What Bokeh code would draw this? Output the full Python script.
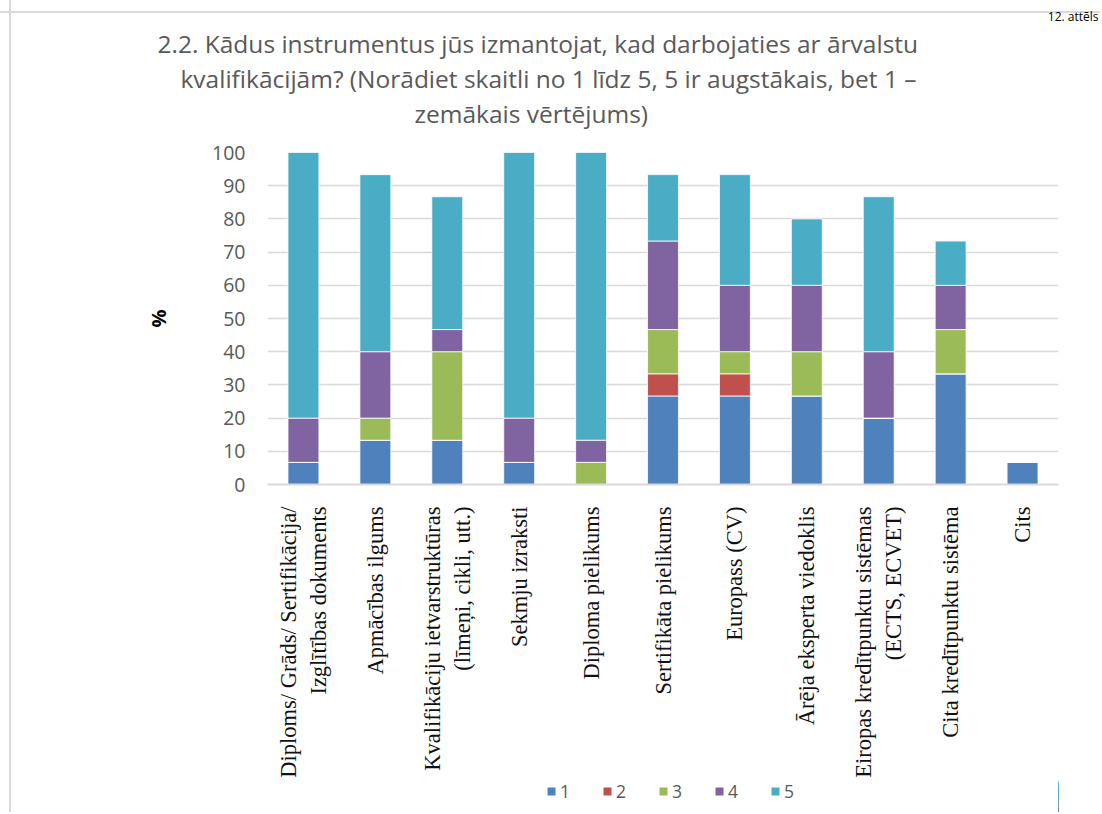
import math
from bokeh.plotting import figure
from bokeh.layouts import column
from bokeh.models import (Range1d, FactorRange, Legend, LegendItem, Title,
                          ColumnDataSource, FixedTicker)
from bokeh.embed import file_html
from bokeh.resources import INLINE

categories = [
    "Diploms/ Grāds/ Sertifikācija/\nIzglītības dokuments",
    "Apmācības ilgums",
    "Kvalifikāciju ietvarstruktūras\n(līmeņi, cikli, utt.)",
    "Sekmju izraksti",
    "Diploma pielikums",
    "Sertifikāta pielikums",
    "Europass (CV)",
    "Ārēja eksperta viedoklis",
    "Eiropas kredītpunktu sistēmas\n(ECTS, ECVET)",
    "Cita kredītpunktu sistēma",
    "Cits",
]
series_names = ["1", "2", "3", "4", "5"]
s1 = [6.67, 13.33, 13.33, 6.67, 0, 26.67, 26.67, 26.67, 20.0, 33.33, 6.67]
s2 = [0, 0, 0, 0, 0, 6.67, 6.67, 0, 0, 0, 0]
s3 = [0, 6.67, 26.67, 0, 6.67, 13.33, 6.67, 13.33, 0, 13.33, 0]
s4 = [13.33, 20.0, 6.67, 13.33, 6.67, 26.67, 20.0, 20.0, 20.0, 13.33, 0]
s5 = [80.0, 53.33, 40.0, 80.0, 86.67, 20.0, 33.33, 20.0, 46.67, 13.33, 0]
colors = ["#4f81bd", "#c0504d", "#9bbb59", "#8064a2", "#4bacc6"]
y_ticks = [0, 10, 20, 30, 40, 50, 60, 70, 80, 90, 100]
title_lines = [
    "2.2. Kādus instrumentus jūs izmantojat, kad darbojaties ar ārvalstu",
    "kvalifikācijām? (Norādiet skaitli no 1 līdz 5, 5 ir augstākais, bet 1 –",
    "zemākais vērtējums)",
]
figure_caption = "12. attēls"

data = {"cat": categories, "idx": list(range(len(categories))),
        "1": s1, "2": s2, "3": s3, "4": s4, "5": s5}
src = ColumnDataSource(data=data)

# ---------------- main chart ----------------
p = figure(x_range=FactorRange(*categories), y_range=Range1d(0, 100),
           width=1100, height=780, output_backend="svg", toolbar_location=None,
           min_border_left=267, min_border_right=42, min_border_top=152,
           min_border_bottom=296, title=None)
p.outline_line_color = None
p.background_fill_color = "white"
p.border_fill_alpha = 0

p.vbar_stack(series_names, x="cat", width=0.43, color=colors, source=src,
             line_color="#ffffff", line_width=0.8)

p.xgrid.grid_line_color = None
p.ygrid.grid_line_color = "#d9d9d9"
p.ygrid.grid_line_width = 1.5

p.yaxis.ticker = FixedTicker(ticks=y_ticks)
p.yaxis.axis_line_color = None
p.yaxis.major_tick_line_color = None
p.yaxis.minor_tick_line_color = None
p.yaxis.major_label_text_font = "Open Sans"
p.yaxis.major_label_text_font_size = "19.5px"
p.yaxis.major_label_text_color = "#595959"
p.yaxis.major_label_standoff = 16
p.yaxis.axis_label = "%"
p.yaxis.axis_label_text_font = "Open Sans"
p.yaxis.axis_label_text_font_style = "bold"
p.yaxis.axis_label_text_font_size = "20px"
p.yaxis.axis_label_text_color = "black"
p.yaxis.axis_label_standoff = 37

p.xaxis.axis_line_color = "#d9d9d9"
p.xaxis.axis_line_width = 2
p.xaxis.major_tick_line_color = None
p.xaxis.minor_tick_line_color = None
p.xaxis.major_label_orientation = math.pi / 2
p.xaxis.major_label_text_font = "Liberation Serif"
p.xaxis.major_label_text_font_size = "22.5px"
p.xaxis.major_label_text_color = "#111111"
p.xaxis.major_label_standoff = 16

# titles (stacked from the frame upward)
p.add_layout(Title(text=" ", text_font_size="1px", standoff=20), "above")
offsets = [-110, -87, 147]
for t, off in reversed(list(zip(title_lines, offsets))):
    p.add_layout(Title(text=t, align="left", offset=off, standoff=0,
                       text_font="Open Sans", text_font_size="24.5px",
                       text_font_style="normal", text_color="#595959"), "above")
p.add_layout(Title(text=figure_caption, align="right", offset=-40, standoff=0,
                   text_font="Open Sans", text_font_size="12px",
                   text_font_style="normal", text_color="black"), "above")

# ---------------- legend strip ----------------
leg = figure(width=1100, height=32, x_range=Range1d(-60, -59), y_range=Range1d(0, 100),
             output_backend="svg", toolbar_location=None, min_border=0,
             x_axis_type=None, y_axis_type=None, title=None)
leg.outline_line_color = None
leg.grid.visible = False
leg.background_fill_alpha = 0
leg.border_fill_alpha = 0
rs = leg.vbar_stack(series_names, x="idx", width=0.43, color=colors, source=src,
                    line_color=None)
legend = Legend(items=[LegendItem(label=n, renderers=[r]) for n, r in zip(series_names, rs)],
                orientation="horizontal", location=(279, 9),
                border_line_color=None, background_fill_alpha=0,
                glyph_width=10, glyph_height=10, label_standoff=4,
                label_width=20, spacing=22, padding=0, margin=0,
                label_text_font="Open Sans", label_text_font_size="17.5px",
                label_text_color="#595959")
leg.add_layout(legend, "center")

lay = column(p, leg, spacing=0, styles={
    "background-color": "white",
    "background-image": ("linear-gradient(to right, transparent 9px, #d9d9d9 9px, "
                         "#d9d9d9 11px, transparent 11px), "
                         "linear-gradient(to bottom, transparent 11px, #d9d9d9 11px, "
                         "#d9d9d9 13px, transparent 13px)"),
    "background-repeat": "no-repeat",
    "background-size": "100% 100%",
})

open("out.html", "w").write(file_html(lay, INLINE))
